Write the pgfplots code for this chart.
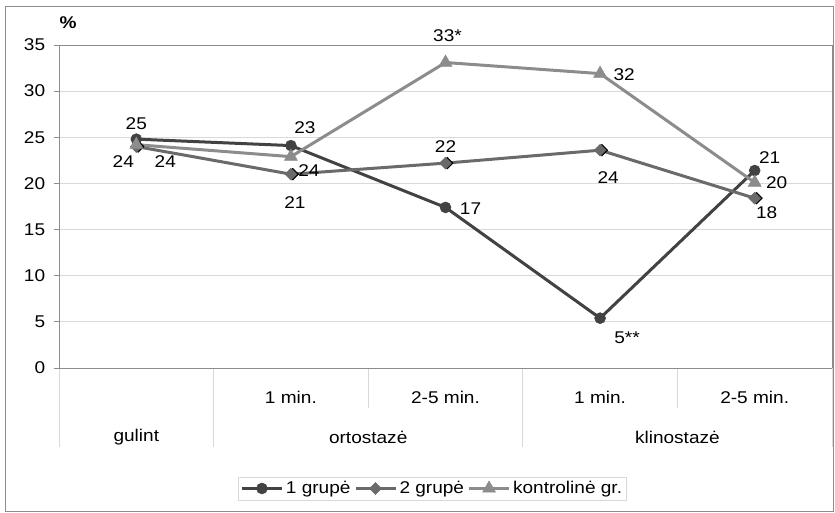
\documentclass[border=0pt]{standalone}
\usepackage{fontspec}
\setmainfont{Liberation Sans}[FakeStretch=1.12]
\usepackage{pgfplots}
\usepackage{pgfplotstable}
\pgfplotsset{compat=1.18}

\definecolor{gA}{HTML}{424242}
\definecolor{gB}{HTML}{6A6A6A}
\definecolor{gC}{HTML}{8C8C8C}
\definecolor{frameC}{HTML}{8C8C8C}
\definecolor{gridC}{HTML}{D9D9D9}

\newcommand\cf{\fontsize{17bp}{20bp}\selectfont}

% x: 0 gulint, 1-2 ortostaze (1 min., 2-5 min.), 3-4 klinostaze (1 min., 2-5 min.)
% lab: value label, lx/ly: label offset from the point (bp)
\pgfplotstableread{
x y lab lx ly
0 24.8 25 0 15
1 24.1 24 18 -25
2 17.4 17 25 -1
3 5.4 5** 27 -20
4 21.4 21 15 12.5
}\grpA
\pgfplotstableread{
x y lab lx ly
0 24.0 24 29 -15.5
1 21.0 21 4 -28
2 22.2 22 0 16.4
3 23.6 24 8 -27
4 18.4 18 12 -14
}\grpB
\pgfplotstableread{
x y lab lx ly
0 24.2 24 -13 -17
1 22.9 23 14 28.7
2 33.1 33* 2 26.5
3 31.9 32 24 -0.7
4 20.1 20 22 0
}\grpC

\pgfplotsset{
  vallabels/.style={
    nodes near coords, point meta=explicit symbolic,
    visualization depends on={\thisrow{lx}\as\lx},
    visualization depends on={\thisrow{ly}\as\ly},
    every node near coord/.append style={font=\cf, text=black, anchor=center,
      inner sep=0pt, xshift=\lx*1bp, yshift=\ly*1bp},
  },
}

\begin{document}
\cf
\begin{tikzpicture}
\useasboundingbox (0,0) rectangle (835bp,513bp);
\draw[frameC, line width=0.9bp] (5bp,2bp) rectangle (833.5bp,506.5bp);
\begin{axis}[
  at={(59bp,145bp)}, anchor=south west,
  scale only axis, width=773bp, height=323bp,
  xmin=-0.5, xmax=4.5, ymin=0, ymax=35,
  xtick=\empty, ytick={0,5,...,35},
  ytick pos=left, tick align=outside, major tick length=5bp,
  ytick style={draw=frameC, line width=0.8bp},
  ymajorgrids, major grid style={draw=gridC, line width=0.8bp},
  axis line style={draw=frameC, line width=0.8bp},
  tick label style={font=\cf, text=black},
  /pgf/number format/assume math mode=true,
  yticklabel style={xshift=-3bp},
  clip=false,
  legend columns=3,
  legend image code/.code={\draw[mark repeat=2,mark phase=2,#1] plot coordinates {(0bp,0bp) (20bp,0bp) (40bp,0bp)};},
  legend style={at={(0.4832,-0.373)}, anchor=center, draw=gridC, line width=0.8bp,
    font=\cf, inner xsep=2bp, inner ysep=2bp,
    nodes={inner xsep=2.5bp, inner ysep=2bp},
    /tikz/every even column/.append style={column sep=1bp}},
]
% separators of the category axis
\draw[gridC, line width=0.8bp] (axis cs:-0.5,0) -- ([yshift=-79bp]axis cs:-0.5,0);
\draw[gridC, line width=0.8bp] (axis cs:0.5,0) -- ([yshift=-79bp]axis cs:0.5,0);
\draw[gridC, line width=0.8bp] (axis cs:2.5,0) -- ([yshift=-79bp]axis cs:2.5,0);
\draw[gridC, line width=0.8bp] (axis cs:4.5,0) -- ([yshift=-79bp]axis cs:4.5,0);
\draw[gridC, line width=0.8bp] (axis cs:1.5,0) -- ([yshift=-40bp]axis cs:1.5,0);
\draw[gridC, line width=0.8bp] (axis cs:3.5,0) -- ([yshift=-40bp]axis cs:3.5,0);
\draw[frameC, line width=0.8bp] (axis cs:-0.5,0) -- (axis cs:4.5,0);
% category labels
\node[font=\cf] at ([yshift=-29.5bp]axis cs:1,0) {1 min.};
\node[font=\cf] at ([yshift=-29.5bp]axis cs:2,0) {2-5 min.};
\node[font=\cf] at ([yshift=-29.5bp]axis cs:3,0) {1 min.};
\node[font=\cf] at ([yshift=-29.5bp]axis cs:4,0) {2-5 min.};
\node[font=\cf] at ([yshift=-69bp]axis cs:0,0) {gulint};
\node[font=\cf] at ([yshift=-69bp]axis cs:1.5,0) {ortostazė};
\node[font=\cf] at ([yshift=-69bp]axis cs:3.5,0) {klinostazė};
\node[font=\cf\bfseries] at ([xshift=9bp, yshift=22.5bp]axis cs:-0.5,35) {\%};

\addplot[color=gA, line width=3bp, mark=*, mark size=5.5bp,
  mark options={solid, fill=gA, draw=gA, line width=0.5bp}, vallabels]
  table[x=x, y=y, meta=lab]{\grpA};
\addlegendentry{1 grupė}
% dark edge under the diamond markers
\addplot[forget plot, only marks, mark=square*, mark size=4.2bp,
  mark options={black, fill=black, rotate=45, xshift=1.3bp, yshift=-1.3bp}]
  table[x=x, y=y]{\grpB};
\addplot[color=gB, line width=3bp, mark=square*, mark size=4.2bp,
  mark options={solid, fill=gB, draw=gB, line width=0.5bp, rotate=45}, vallabels]
  table[x=x, y=y, meta=lab]{\grpB};
\addlegendentry{2 grupė}
\addplot[color=gC, line width=3bp, mark=triangle*, mark size=7.5bp,
  mark options={solid, fill=gC, draw=gC, line width=0.5bp}, vallabels]
  table[x=x, y=y, meta=lab]{\grpC};
\addlegendentry{kontrolinė gr.}
\end{axis}
\end{tikzpicture}
\end{document}
